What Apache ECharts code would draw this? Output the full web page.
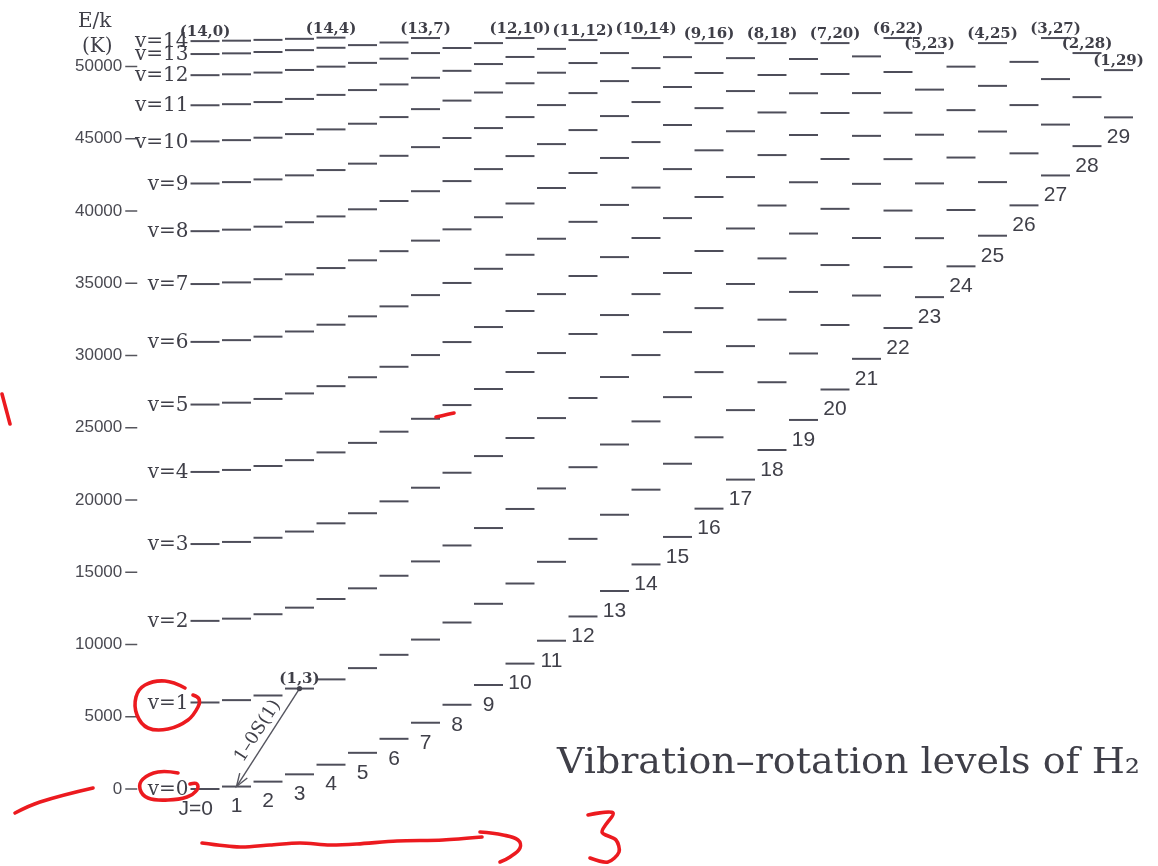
<!DOCTYPE html>
<html>
<head>
<meta charset="utf-8">
<title>Vibration–rotation levels of H2</title>
<script src="https://cdn.jsdelivr.net/npm/echarts/dist/echarts.min.js"></script>
<style>
  html, body { margin: 0; padding: 0; background: #ffffff; }
  #chart { width: 1158px; height: 866px; }
</style>
</head>
<body>
<div id="chart"></div>
<script>
// Level energies E/k in kelvin, one array per vibrational level v, indexed by J = 0..Jmax
const E_v0  = [0, 170, 510, 1015, 1682, 2504, 3474, 4586, 5830, 7197, 8677, 10262, 11940, 13704, 15541, 17443, 19402, 21411, 23459, 25540, 27647, 29770, 31903, 34040, 36171, 38290, 40390, 42460, 44490, 46480];
const E_v1  = [5987, 6150, 6471, 6951, 7586, 8365, 9286, 10341, 11522, 12817, 14221, 15722, 17311, 18979, 20715, 22510, 24340, 26220, 28150, 30140, 32110, 34150, 36120, 38120, 40070, 42000, 43990, 45980, 47880, 49750];
const E_v2  = [11635, 11789, 12095, 12550, 13149, 13888, 14758, 15750, 16854, 18060, 19380, 20800, 22270, 23840, 25440, 27120, 28850, 30650, 32480, 34400, 36260, 38130, 40030, 41910, 43700, 45500, 47330, 49130, 50930];
const E_v3  = [16952, 17098, 17387, 17817, 18385, 19084, 19906, 20850, 21887, 23040, 24290, 25670, 27060, 28510, 30030, 31620, 33280, 34950, 36720, 38440, 40150, 41880, 43590, 45280, 46980, 48660, 50320, 51970];
const E_v4  = [21942, 22080, 22353, 22759, 23294, 23953, 24728, 25620, 26570, 27680, 28860, 30170, 31490, 32800, 34250, 35710, 37230, 38790, 40380, 41990, 43600, 45200, 46800, 48400, 49990, 51620];
const E_v5  = [26606, 26736, 26993, 27375, 27878, 28496, 29220, 30030, 30930, 31970, 33080, 34250, 35500, 36810, 38130, 39510, 40970, 42350, 43870, 45260, 46780, 48160, 49620, 50930];
const E_v6  = [30942, 31063, 31304, 31662, 32132, 32710, 33400, 34180, 35020, 36000, 36970, 38080, 39250, 40420, 41620, 42900, 44200, 45520, 46820, 48150, 49480, 50700, 51970];
const E_v7  = [34945, 35058, 35282, 35615, 36052, 36588, 37220, 37950, 38730, 39570, 40520, 41590, 42630, 43670, 44770, 45950, 47120, 48300, 49410, 50520, 51620];
const E_v8  = [38604, 38709, 38916, 39223, 39625, 40117, 40690, 41370, 42070, 42900, 43800, 44630, 45600, 46570, 47540, 48580, 49550, 50580, 51620];
const E_v9  = [41903, 41999, 42187, 42467, 42833, 43277, 43820, 44420, 45050, 45740, 46500, 47330, 48160, 48990, 49890, 50650, 51620];
const E_v10 = [44818, 44904, 45073, 45323, 45647, 46040, 46500, 47050, 47640, 48200, 48840, 49570, 50240, 50930, 51970];
const E_v11 = [47317, 47392, 47539, 47755, 48035, 48369, 48760, 49220, 49700, 50170, 50660, 51220, 51830];
const E_v12 = [49400, 49460, 49580, 49760, 49990, 50250, 50540, 50930, 51280, 51620, 51970];
const E_v13 = [50862, 50910, 51003, 51134, 51296, 51480, 51660, 51970];
const E_v14 = [51757, 51787, 51842, 51915, 51997];

const bands = [E_v0, E_v1, E_v2, E_v3, E_v4, E_v5, E_v6, E_v7, E_v8, E_v9, E_v10, E_v11, E_v12, E_v13, E_v14];

// Energy axis ticks
const yTicks = [0, 5000, 10000, 15000, 20000, 25000, 30000, 35000, 40000, 45000, 50000];

// Levels tagged with their (v, J) pair
const taggedLevels = [[14, 0], [14, 4], [13, 7], [12, 10], [11, 12], [10, 14], [9, 16], [8, 18], [7, 20], [6, 22], [5, 23], [4, 25], [3, 27], [2, 28], [1, 29], [1, 3]];

// The 1-0 S(1) line: upper level (v, J) and lower level (v, J)
const lineUpper = [1, 3];
const lineLower = [0, 1];
const lineName = '1–0S(1)';

const titleText = 'Vibration–rotation levels of H₂';

// ---------------------------------------------------------------------------
const INK = '#4e4e5a';
const TEXT = '#3f3f48';
const HALF = 0.46;            // half width of a level bar, in units of J
const AXIS_GAP = 52;          // energy axis sits this many px left of the J = 0 column
const TICK_LEN = 12;
const SERIF = '"DejaVu Serif", serif';
const SANS = '"Liberation Sans", Arial, sans-serif';
const RED = '#ec1a1f';

const levelData = [];
bands.forEach((arr, v) => arr.forEach((E, J) => levelData.push([J, E, v])));

// text items: band names, rotational numbers and (v,J) tags
const textItems = [];
bands.forEach((arr, v) => textItems.push({ kind: 'band', J: 0, E: arr[0], text: 'v=' + v }));
E_v0.forEach((E, J) => textItems.push({ kind: 'rot', J: J, E: E, text: J === 0 ? 'J=0' : String(J) }));
taggedLevels.forEach(([v, J]) => textItems.push({ kind: 'tag', J: J, E: bands[v][J], text: '(' + v + ',' + J + ')' }));

function renderLevel(params, api) {
  const J = api.value(0), E = api.value(1);
  const a = api.coord([J - HALF, E]);
  const b = api.coord([J + HALF, E]);
  return {
    type: 'line',
    shape: { x1: a[0], y1: a[1], x2: b[0], y2: b[1] },
    style: { stroke: INK, lineWidth: 2 }
  };
}

// short tick dashes of the energy axis
function renderTick(params, api) {
  const p = api.coord([-0.5, api.value(0)]);
  const x0 = p[0] - AXIS_GAP;
  return {
    type: 'line',
    shape: { x1: x0 - TICK_LEN, y1: p[1], x2: x0, y2: p[1] },
    style: { stroke: '#55555c', lineWidth: 1.5 }
  };
}

function renderText(params, api) {
  const item = textItems[params.dataIndex];
  const p = api.coord([item.J, item.E]);
  if (item.kind === 'band') {
    const left = api.coord([item.J - HALF, item.E]);
    return { type: 'text', x: left[0] - 2, y: p[1] + 1,
      style: { text: item.text, fill: TEXT, fontFamily: SERIF, fontSize: 20, align: 'right', verticalAlign: 'middle' } };
  }
  if (item.kind === 'rot') {
    const isFirst = item.J === 0;
    return { type: 'text', x: isFirst ? p[0] + 8 : p[0], y: p[1] + 20,
      style: { text: item.text, fill: TEXT, fontFamily: SANS, fontSize: 21, align: isFirst ? 'right' : 'center', verticalAlign: 'middle' } };
  }
  return { type: 'text', x: p[0], y: p[1] - 9,
    style: { text: item.text, fill: TEXT, fontFamily: SERIF, fontSize: 15, fontWeight: 'bold', align: 'center', verticalAlign: 'middle' } };
}

function renderTransition(params, api) {
  const p = api.coord([api.value(0), api.value(1)]);   // upper level
  const q = api.coord([api.value(2), api.value(3)]);   // lower level
  const dx = p[0] - q[0], dy = p[1] - q[1];
  const L = Math.hypot(dx, dy);
  const ux = dx / L, uy = dy / L;                      // unit vector lower -> upper
  const head = 13, wing = 4.5;
  const hx = q[0] + ux * head, hy = q[1] + uy * head;
  const nx = -uy, ny = ux;
  const mx = (p[0] + q[0]) / 2, my = (p[1] + q[1]) / 2;
  const off = 12;
  return {
    type: 'group',
    children: [
      { type: 'line', shape: { x1: p[0], y1: p[1], x2: q[0], y2: q[1] }, style: { stroke: '#55555f', lineWidth: 1.4 } },
      { type: 'polyline', shape: { points: [[hx + nx * wing, hy + ny * wing], [q[0], q[1]], [hx - nx * wing, hy - ny * wing]] },
        style: { stroke: '#55555f', lineWidth: 1.4, fill: null } },
      { type: 'circle', shape: { cx: p[0], cy: p[1], r: 2.6 }, style: { fill: '#44444e' } },
      { type: 'text', x: mx + uy * off, y: my - ux * off, rotation: Math.atan2(-dy, dx),
        style: { text: lineName, fill: TEXT, fontFamily: SERIF, fontSize: 18, align: 'center', verticalAlign: 'middle' } }
    ]
  };
}

const chart = echarts.init(document.getElementById('chart'), null, { renderer: 'canvas' });

const redStroke = { stroke: RED, lineWidth: 3.6, lineCap: 'round', lineJoin: 'round', fill: null };
function scribble(points, smooth) {
  return { type: 'polyline', shape: { points: points, smooth: smooth }, style: redStroke, z: 100 };
}

chart.setOption({
  backgroundColor: '#ffffff',
  animation: false,
  grid: { left: 189.25, right: 23.75, top: 8.7, bottom: 77, containLabel: false, outerBoundsMode: 'none' },
  xAxis: { type: 'value', min: -0.5, max: 29.5, show: false },
  yAxis: {
    type: 'value', min: 0, max: 54000, offset: AXIS_GAP,
    axisLine: { show: false },
    splitLine: { show: false },
    axisTick: { show: false },
    axisLabel: { customValues: yTicks, margin: 15, formatter: (v) => String(v), color: '#4a4a52', fontSize: 17, fontFamily: SANS }
  },
  series: [
    { type: 'custom', name: 'levels', clip: false, data: levelData, renderItem: renderLevel, encode: { x: 0, y: 1 }, silent: true },
    { type: 'custom', name: 'ticks', clip: false, data: yTicks.map(t => [t]), renderItem: renderTick, encode: { y: 0 }, silent: true },
    { type: 'custom', name: 'labels', clip: false, data: textItems.map(t => [t.J, t.E]), renderItem: renderText, encode: { x: 0, y: 1 }, silent: true },
    { type: 'custom', name: 'transition', clip: false,
      data: [[lineUpper[1], bands[lineUpper[0]][lineUpper[1]], lineLower[1], bands[lineLower[0]][lineLower[1]]]],
      renderItem: renderTransition, encode: { x: [0, 2], y: [1, 3] }, silent: true }
  ],
  graphic: [
    { type: 'text', left: 78, top: 12, style: { text: 'E/k', fill: TEXT, fontFamily: SERIF, fontSize: 20 } },
    { type: 'text', left: 82, top: 37, style: { text: '(K)', fill: TEXT, fontFamily: SERIF, fontSize: 20 } },
    { type: 'text', x: 557, y: 764, scaleX: 1.085, style: { text: titleText, fill: TEXT, fontFamily: SERIF, fontSize: 35, align: 'left', verticalAlign: 'middle' } },
    // hand-drawn red marks
    scribble([[2, 394], [6, 409], [10, 424]], 0.4),
    scribble([[436, 417], [445, 415], [454, 413]], 0.4),
    scribble([[185, 688], [165, 681], [145, 685], [136, 697], [137, 715], [148, 728], [168, 729], [188, 720], [198, 707], [199, 699], [193, 695]], 0.4),
    scribble([[178, 773], [158, 772], [143, 779], [140, 789], [148, 798], [168, 800], [187, 797], [197, 790], [197, 784], [190, 784]], 0.4),
    scribble([[15, 813], [40, 802], [93, 788]], 0.4),
    scribble([[202, 843], [240, 847], [270, 845], [300, 843], [330, 845], [357, 844], [397, 841], [443, 840], [482, 837]], 0.3),
    scribble([[480, 832], [503, 835], [518, 840], [520, 848], [510, 857], [500, 862]], 0.4),
    scribble([[588, 815], [613, 813], [602, 832], [616, 840], [619, 852], [608, 862], [590, 858]], 0.3)
  ]
});
</script>
</body>
</html>
